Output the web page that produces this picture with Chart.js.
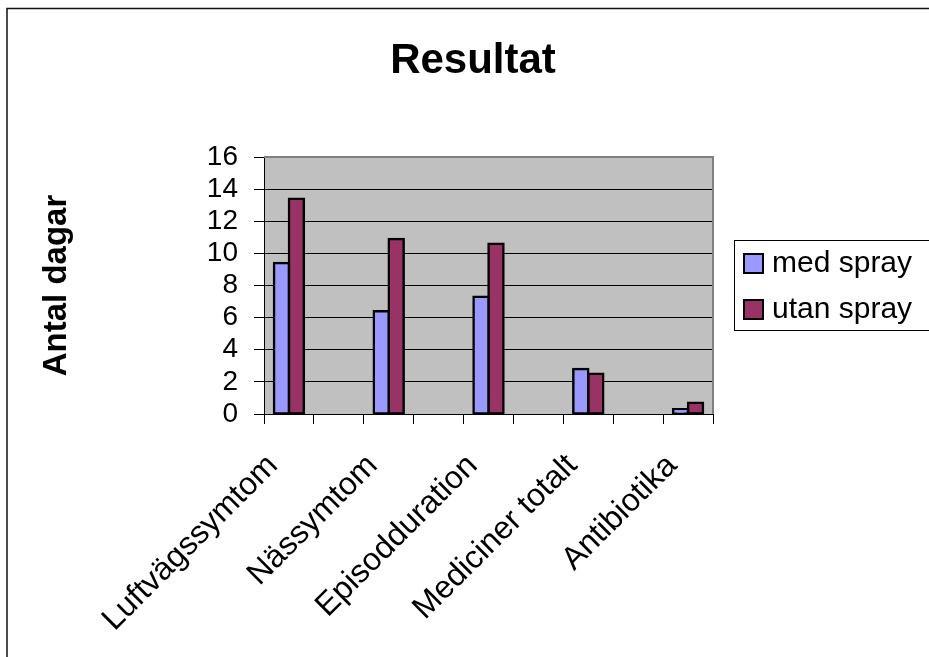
<!DOCTYPE html>
<html>
<head>
<meta charset="utf-8">
<script src="https://cdn.jsdelivr.net/npm/chart.js@4/dist/chart.umd.min.js"></script>
<style>
  html, body { margin: 0; padding: 0; background: #fff; }
  canvas { display: block; }
</style>
</head>
<body>
<canvas id="c" width="929" height="657"></canvas>
<script>
// Categories (blank entries are spacer columns between groups)
const categories = ['Luftvägssymtom', '', 'Nässymtom', '', 'Episodduration', '', 'Mediciner totalt', '', 'Antibiotika'];
const medSpray   = [9.4, null, 6.4, null, 7.3, null, 2.8, null, 0.3];
const utanSpray  = [13.4, null, 10.9, null, 10.6, null, 2.5, null, 0.7];
const seriesNames = ['med spray', 'utan spray'];
const yMin = 0, yMax = 16, yStep = 2;
const chartTitle = 'Resultat';
const yTitle = 'Antal dagar';

const FONT = '"Liberation Sans", Arial, sans-serif';

// Grey plot background, outer frame, top/right plot border, title and legend
const framePlugin = {
  id: 'frame',
  beforeDraw(chart) {
    const { ctx, chartArea: a } = chart;
    ctx.save();
    ctx.fillStyle = '#ffffff';
    ctx.fillRect(0, 0, chart.width, chart.height);
    ctx.strokeStyle = '#111';
    ctx.lineWidth = 1.5;
    ctx.strokeRect(7, 8.5, chart.width + 20, chart.height + 20);
    ctx.fillStyle = '#C0C0C0';
    ctx.fillRect(a.left, a.top, a.right - a.left, a.bottom - a.top);
    ctx.restore();
  },
  beforeDatasetsDraw(chart) {
    const { ctx, chartArea: a } = chart;
    ctx.save();
    ctx.strokeStyle = '#808080';
    ctx.lineWidth = 2;
    ctx.beginPath();
    ctx.moveTo(a.left, a.top);
    ctx.lineTo(a.right, a.top);
    ctx.lineTo(a.right, a.bottom);
    ctx.stroke();
    ctx.restore();
  },
  afterDraw(chart) {
    const { ctx } = chart;
    ctx.save();
    // Title
    ctx.fillStyle = '#000';
    ctx.font = 'bold 42px ' + FONT;
    ctx.textAlign = 'center';
    ctx.textBaseline = 'alphabetic';
    ctx.fillText(chartTitle, 473, 73);
    // Legend
    ctx.strokeStyle = '#000';
    ctx.lineWidth = 1;
    ctx.strokeRect(734.5, 240.5, 300, 90);
    ctx.font = '30px ' + FONT;
    ctx.textAlign = 'left';
    ctx.textBaseline = 'middle';
    chart.data.datasets.forEach((ds, i) => {
      const cy = 263 + i * 46;
      ctx.fillStyle = ds.backgroundColor;
      ctx.fillRect(744, cy - 9, 19, 19);
      ctx.lineWidth = 2;
      ctx.strokeStyle = '#000';
      ctx.strokeRect(744, cy - 9, 19, 19);
      ctx.fillStyle = '#000';
      ctx.fillText(ds.label, 772, cy + 1);
    });
    ctx.restore();
  }
};

new Chart(document.getElementById('c'), {
  type: 'bar',
  data: {
    labels: categories,
    datasets: [
      { label: seriesNames[0], data: medSpray, backgroundColor: '#9999FF', borderColor: '#000', borderWidth: 2.5, inflateAmount: 1.25, borderSkipped: false },
      { label: seriesNames[1], data: utanSpray, backgroundColor: '#993366', borderColor: '#000', borderWidth: 2.5, inflateAmount: 1.25, borderSkipped: false }
    ]
  },
  options: {
    responsive: false,
    animation: false,
    devicePixelRatio: 1,
    datasets: { bar: { categoryPercentage: 0.6, barPercentage: 1.0 } },
    layout: { padding: { left: 20, top: 157, right: 216, bottom: 0 } },
    plugins: {
      legend: { display: false },
      title: { display: false },
      tooltip: { enabled: false }
    },
    scales: {
      x: {
        offset: true,
        afterFit(scale) { scale.height = 243; },
        grid: { offset: true, drawOnChartArea: false, drawTicks: true, tickLength: 10, color: '#000', lineWidth: 1 },
        border: { display: true, color: '#000', width: 1 },
        ticks: {
          autoSkip: false, minRotation: 45, maxRotation: 45, padding: 23, labelOffset: -16,
          color: '#000', font: { family: FONT, size: 32 }
        }
      },
      y: {
        min: yMin, max: yMax,
        afterFit(scale) { scale.width = 244; },
        grid: { color: '#000', lineWidth: 1, drawTicks: true, tickLength: 10 },
        border: { display: true, color: '#000', width: 1 },
        ticks: { stepSize: yStep, autoSkip: false, padding: 16, color: '#000', font: { family: FONT, size: 28 } },
        title: {
          display: true, text: yTitle, color: '#000',
          font: { family: FONT, size: 33, weight: 'bold' },
          padding: { top: 17, bottom: 0 }
        }
      }
    }
  },
  plugins: [framePlugin]
});
</script>
</body>
</html>
